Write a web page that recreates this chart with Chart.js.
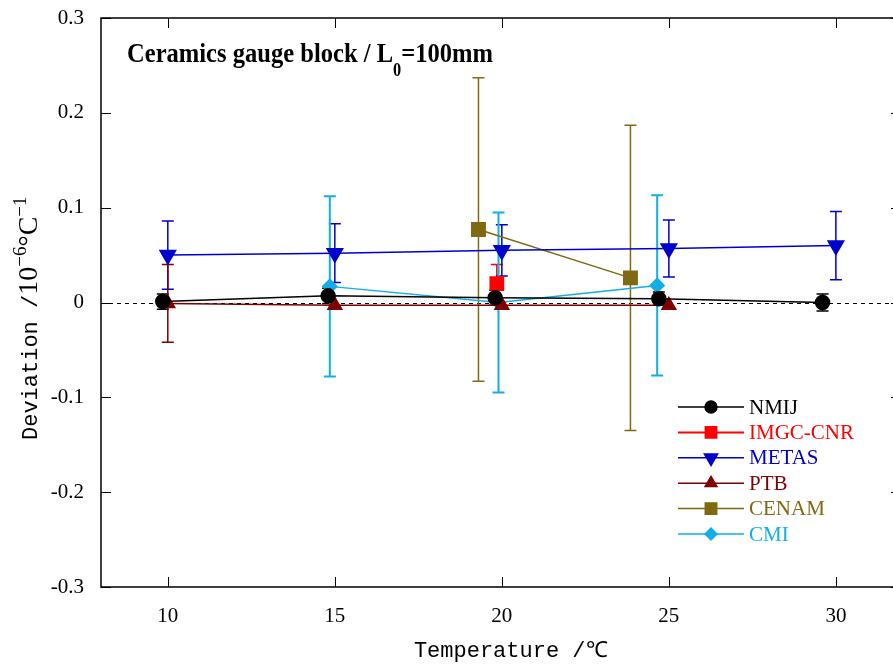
<!DOCTYPE html>
<html>
<head>
<meta charset="utf-8">
<script src="https://cdn.jsdelivr.net/npm/chart.js@4/dist/chart.umd.min.js"></script>
<style>
  html, body { margin: 0; padding: 0; background: #fff; overflow: hidden; }
  #wrap { width: 905px; height: 666px; }
  canvas { display: block; }
</style>
</head>
<body>
<div id="wrap"><canvas id="chart" width="905" height="666" style="width:905px;height:666px"></canvas></div>
<script>
// x ticks and axis range
const xTicks = [10, 15, 20, 25, 30];
const yTicks = [-0.3, -0.2, -0.1, 0, 0.1, 0.2, 0.3];

// series (x = temperature, y = deviation, err = half error bar)
const nmijX = [9.85, 14.8, 19.8, 24.7, 29.6];
const nmijY = [0.001, 0.007, 0.005, 0.004, 0.000];
const nmijErr = [0.008, 0.008, 0.008, 0.007, 0.009];

const imgcX = [19.85];
const imgcY = [0.020];
const imgcErr = [0.020];

const metasX = [10, 15, 20, 25, 30];
const metasY = [0.050, 0.052, 0.055, 0.057, 0.060];
const metasErr = [0.036, 0.031, 0.027, 0.030, 0.036];

const ptbX = [10, 15, 20, 25];
const ptbY = [-0.001, -0.003, -0.003, -0.003];
const ptbErr = [0.041, 0, 0, 0];

const cenamX = [19.3, 23.85];
const cenamY = [0.077, 0.026];
const cenamErr = [0.160, 0.161];

const cmiX = [14.85, 19.9, 24.65];
const cmiY = [0.017, 0.000, 0.018];
const cmiErr = [0.095, 0.095, 0.095];

function pts(xs, ys) {
    return xs.map((x, i) => ({ x: x, y: ys[i] }));
}

function series(label, xs, ys, errs, color, style, radius, lineW, barW, rot) {
    return {
        label: label,
        data: pts(xs, ys),
        errs: errs,
        borderColor: color,
        backgroundColor: color,
        pointBackgroundColor: color,
        pointBorderColor: color,
        pointStyle: style,
        pointRadius: radius,
        pointRotation: rot || 0,
        borderWidth: lineW,
        barWidth: barW,
        showLine: true,
        tension: 0
    };
}

const datasets = [
    series('NMIJ', nmijX, nmijY, nmijErr, '#000000', 'circle', 7, 1.5, 1.5),
    series('IMGC-CNR', imgcX, imgcY, imgcErr, '#ff0000', 'rect', 9, 2, 1.5),
    series('METAS', metasX, metasY, metasErr, '#0000cc', 'triangle', 9, 1.5, 1.5, 180),
    series('PTB', ptbX, ptbY, ptbErr, '#7f0000', 'triangle', 8, 1.5, 1.5),
    series('CENAM', cenamX, cenamY, cenamErr, '#7f6a12', 'rect', 9.5, 1.5, 1.5),
    series('CMI', cmiX, cmiY, cmiErr, '#12aee8', 'rectRot', 7, 1.5, 2)
];

// draws text pieces one after another, returns end x
function pieces(ctx, list, x, y) {
    list.forEach(p => {
        ctx.font = p.font;
        ctx.fillText(p.text, x, y + (p.dy || 0));
        x += ctx.measureText(p.text).width;
    });
    return x;
}

// error bars, zero line, frame with inward ticks, titles and legend
const extras = {
    id: 'extras',
    beforeDatasetsDraw(chart) {
        const ctx = chart.ctx;
        const xs = chart.scales.x, ys = chart.scales.y;
        const a = chart.chartArea;
        ctx.save();
        // dashed zero line
        ctx.strokeStyle = '#000';
        ctx.lineWidth = 1;
        ctx.setLineDash([4, 4]);
        const y0 = Math.round(ys.getPixelForValue(0)) + 0.5;
        ctx.beginPath();
        ctx.moveTo(a.left, y0);
        ctx.lineTo(a.right, y0);
        ctx.stroke();
        ctx.setLineDash([]);
        // error bars
        chart.data.datasets.forEach(ds => {
            ctx.strokeStyle = ds.borderColor;
            ctx.lineWidth = ds.barWidth;
            ds.data.forEach((p, i) => {
                const e = ds.errs[i];
                if (!e) return;
                const px = xs.getPixelForValue(p.x);
                const top = ys.getPixelForValue(p.y + e);
                const bot = ys.getPixelForValue(p.y - e);
                ctx.beginPath();
                ctx.moveTo(px, top); ctx.lineTo(px, bot);
                ctx.moveTo(px - 6, top); ctx.lineTo(px + 6, top);
                ctx.moveTo(px - 6, bot); ctx.lineTo(px + 6, bot);
                ctx.stroke();
            });
        });
        ctx.restore();
    },
    afterDraw(chart) {
        const ctx = chart.ctx;
        const xs = chart.scales.x, ys = chart.scales.y;
        const a = chart.chartArea;
        ctx.save();
        ctx.strokeStyle = '#000';
        ctx.lineWidth = 1.5;
        ctx.strokeRect(a.left, a.top, a.right - a.left, a.bottom - a.top);
        ctx.lineWidth = 1;
        ctx.beginPath();
        xTicks.forEach(v => {
            const px = Math.round(xs.getPixelForValue(v)) + 0.5;
            ctx.moveTo(px, a.bottom); ctx.lineTo(px, a.bottom - 10);
            ctx.moveTo(px, a.top); ctx.lineTo(px, a.top + 10);
        });
        yTicks.forEach(v => {
            const py = Math.round(ys.getPixelForValue(v)) + 0.5;
            ctx.moveTo(a.left, py); ctx.lineTo(a.left + 10, py);
            ctx.moveTo(a.right, py); ctx.lineTo(a.right - 3, py);
        });
        ctx.stroke();

        // title inside the plot (condensed bold serif)
        ctx.fillStyle = '#000';
        ctx.textBaseline = 'alphabetic';
        const tParts = [
            { text: 'Ceramics gauge block / L', font: 'bold 27px "Liberation Serif"' },
            { text: '0', font: 'bold 18px "Liberation Serif"', dy: 14 },
            { text: '=100mm', font: 'bold 27px "Liberation Serif"' }
        ];
        let w = 0;
        tParts.forEach(p => { ctx.font = p.font; w += ctx.measureText(p.text).width; });
        ctx.save();
        ctx.translate(127, 62);
        ctx.scale(366 / w, 1);
        pieces(ctx, tParts, 0, 0);
        ctx.restore();

        // y axis title, rotated
        ctx.save();
        ctx.translate(37, 440);
        ctx.rotate(-Math.PI / 2);
        pieces(ctx, [
            { text: 'Deviation /', font: '22px "Liberation Mono"' },
            { text: '10', font: '28px "Liberation Serif"' },
            { text: '−6', font: '19px "Liberation Serif"', dy: -11 },
            { text: '°C', font: '28px "Liberation Serif"' },
            { text: '−1', font: '19px "Liberation Serif"', dy: -11 }
        ], 0, 0);
        ctx.restore();

        // legend
        const lx = 678, lw = 66, ly = 407, step = 25.4;
        chart.data.datasets.forEach((ds, i) => {
            const y = ly + i * step;
            ctx.strokeStyle = ds.borderColor;
            ctx.lineWidth = ds.borderWidth;
            ctx.beginPath();
            ctx.moveTo(lx, y); ctx.lineTo(lx + lw, y);
            ctx.stroke();
            ctx.fillStyle = ds.borderColor;
            Chart.helpers.drawPoint(ctx, {
                pointStyle: ds.pointStyle,
                radius: ds.pointRadius * 0.85,
                rotation: ds.pointRotation,
                borderWidth: 1
            }, lx + lw / 2, y);
            ctx.font = '21px "Liberation Serif"';
            ctx.textBaseline = 'middle';
            ctx.fillText(ds.label, lx + lw + 5, y + 1);
        });
        ctx.restore();
    }
};

new Chart(document.getElementById('chart'), {
    type: 'scatter',
    data: { datasets: datasets },
    plugins: [extras],
    options: {
        responsive: false,
        animation: false,
        layout: { padding: { top: 18, right: 2, left: 0, bottom: 2 } },
        plugins: {
            legend: { display: false },
            tooltip: { enabled: false }
        },
        scales: {
            x: {
                type: 'linear',
                min: 8,
                max: 31.74,
                afterBuildTicks: s => { s.ticks = xTicks.map(v => ({ value: v })); },
                afterFit: s => { s.height = 77; s.paddingLeft = 0; s.paddingRight = 0; },
                grid: { display: false, drawTicks: false, tickLength: 0 },
                border: { display: false },
                ticks: {
                    color: '#000',
                    padding: 17,
                    maxRotation: 0,
                    font: { family: 'Liberation Serif', size: 21 }
                },
                title: {
                    display: true,
                    text: '  Temperature /℃',
                    color: '#000',
                    padding: { top: 0, bottom: 0 },
                    font: { family: 'Liberation Mono', size: 22 }
                }
            },
            y: {
                min: -0.3,
                max: 0.3,
                afterBuildTicks: s => { s.ticks = yTicks.map(v => ({ value: v })); },
                afterFit: s => { s.width = 101; s.paddingTop = 0; s.paddingBottom = 0; },
                grid: { display: false, drawTicks: false, tickLength: 0 },
                border: { display: false },
                ticks: {
                    color: '#000',
                    padding: 17,
                    font: { family: 'Liberation Serif', size: 21 },
                    callback: v => Number(v.toFixed(1)).toString()
                },
                title: { display: false }
            }
        }
    }
});
</script>
</body>
</html>
